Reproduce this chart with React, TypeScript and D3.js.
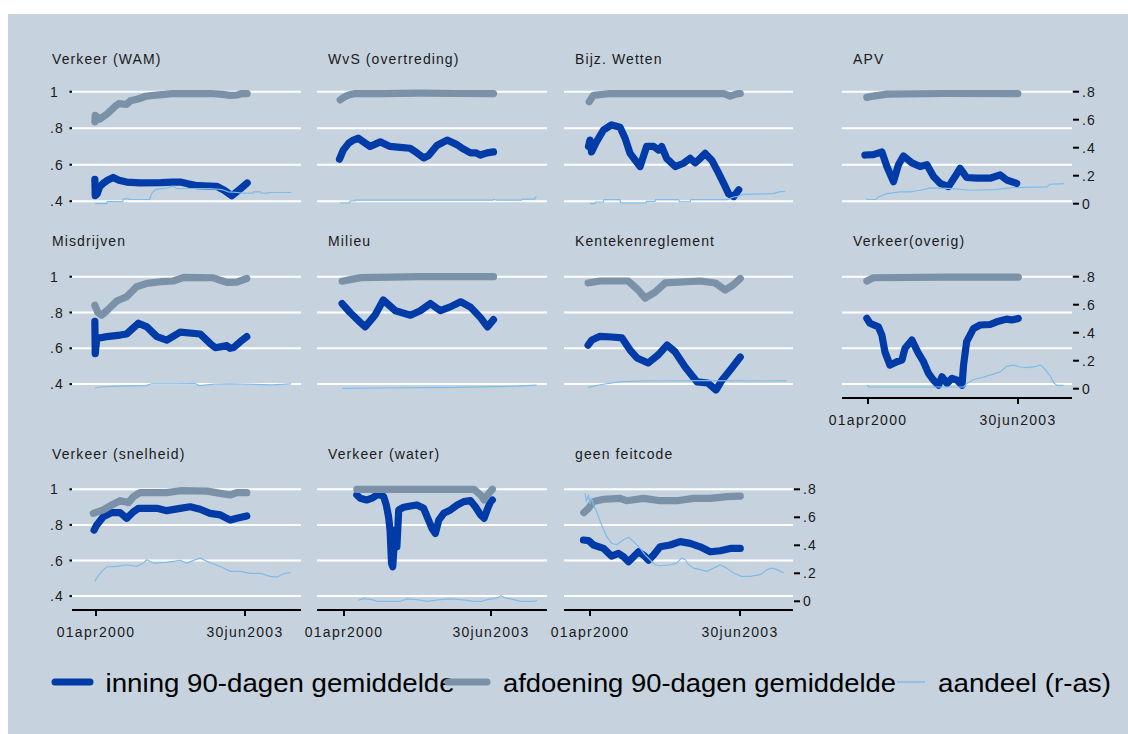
import React from 'react';
import * as d3 from 'd3';

type P = [number, number];

// ---------- tick labels ----------
const leftTicks = [1, 0.8, 0.6, 0.4];
const leftTickLabels = ['1', '.8', '.6', '.4'];
const rightTicks = [0.8, 0.6, 0.4, 0.2, 0];
const rightTickLabels = ['.8', '.6', '.4', '.2', '0'];
const dateTicks = [new Date(2000, 3, 1), new Date(2003, 5, 30)];
const dateTickLabels = ['01apr2000', '30jun2003'];
const legendLabels = ['inning 90-dagen gemiddelde', 'afdoening 90-dagen gemiddelde', 'aandeel (r-as)'];

// ---------- data: [months since 01apr2000, value] ----------
const wamInning: P[] = [[-0.3,0.52],[-0.2,0.43],[0.3,0.44],[1,0.48],[2,0.5],[3,0.515],[4.5,0.53],[6,0.515],[8,0.505],[11.5,0.5],[17,0.502],[20,0.505],[22,0.505],[24,0.495],[26.5,0.485],[31.5,0.482],[33.5,0.46],[35.5,0.43],[37,0.455],[39.5,0.5]];
const wamAfdoening: P[] = [[-0.3,0.835],[-0.2,0.87],[1,0.85],[3,0.88],[5,0.92],[6,0.935],[8,0.93],[9,0.95],[11,0.96],[13,0.975],[15,0.98],[18,0.985],[20,0.99],[30,0.99],[33,0.985],[35,0.98],[37,0.982],[38,0.99],[39.5,0.99]];
const wamAandeel: P[] = [[-0.3,0],[2.8,0],[2.9,0.015],[7,0.015],[7.1,0.035],[8.5,0.035],[8.6,0.03],[14,0.03],[14.5,0.07],[15.5,0.1],[19,0.115],[20,0.125],[21,0.11],[30,0.108],[33,0.1],[34.5,0.085],[37,0.08],[38,0.075],[41,0.075],[41.2,0.085],[43,0.085],[43.2,0.075],[45,0.075],[45.2,0.08],[51,0.08]];

const wvsInning: P[] = [[-1.2,0.63],[-0.8,0.65],[-0.2,0.68],[1.2,0.717],[2.5,0.735],[3.8,0.745],[5.1,0.726],[6.9,0.7],[8,0.71],[9.6,0.725],[12.2,0.7],[14.9,0.695],[17.5,0.69],[19.3,0.665],[21.1,0.637],[22.4,0.65],[24.6,0.705],[27.3,0.735],[29.9,0.71],[31.7,0.685],[33.5,0.665],[35,0.665],[36.1,0.653],[37.9,0.665],[39.6,0.67]];
const wvsAfdoening: P[] = [[-1,0.955],[0,0.97],[1,0.98],[3,0.99],[10,0.99],[20,0.992],[30,0.99],[39.6,0.99]];
const wvsAandeel: P[] = [[-1,0.005],[1.5,0.005],[1.6,0.02],[2.9,0.02],[3,0.026],[39.5,0.026],[39.6,0.032],[40.5,0.026],[47,0.026],[47.2,0.032],[50.5,0.032],[50.7,0.048],[51,0.05]];

const bijzInning: P[] = [[-0.4,0.7],[0,0.735],[0.4,0.67],[1.7,0.726],[3.5,0.79],[5.6,0.818],[7.8,0.805],[9.1,0.745],[10.4,0.662],[11.7,0.626],[13,0.59],[14.7,0.7],[16.5,0.7],[17.8,0.68],[18.6,0.7],[19.9,0.635],[22.1,0.59],[24.3,0.608],[26,0.635],[27.3,0.61],[28.6,0.635],[29.9,0.662],[31.6,0.625],[33.4,0.553],[34.7,0.498],[36,0.44],[37.3,0.425],[38.6,0.462]];
const bijzAfdoening: P[] = [[-0.2,0.945],[0.9,0.98],[5.2,0.99],[20,0.99],[34.7,0.99],[36.4,0.976],[38.1,0.988],[39,0.99]];
const bijzAandeel: P[] = [[0,0],[1.3,0],[1.4,0.012],[3.5,0.012],[3.6,0.029],[7.8,0.029],[8,0.005],[14.5,0.005],[14.7,0.017],[16.9,0.017],[17,0.029],[23,0.029],[23.2,0.014],[26,0.014],[26.2,0.029],[35.5,0.029],[37.3,0.048],[38,0.05],[39.9,0.067],[47.7,0.072],[49,0.084],[50.7,0.088]];

const apvInning: P[] = [[-0.8,0.653],[1.4,0.655],[3.6,0.67],[4.9,0.59],[6.6,0.507],[7.9,0.6],[9.2,0.648],[11.4,0.61],[13.5,0.59],[15.3,0.6],[17,0.535],[18.7,0.498],[20.9,0.48],[22.6,0.535],[23.9,0.58],[25.6,0.53],[28.2,0.526],[31.7,0.526],[34.3,0.544],[36,0.516],[38.6,0.498]];
const apvAfdoening: P[] = [[-0.3,0.969],[1.4,0.976],[4.9,0.987],[20,0.99],[38.9,0.99]];
const apvAandeel: P[] = [[-0.3,0.04],[-0.2,0.03],[2,0.03],[2.7,0.048],[4.9,0.072],[8.3,0.084],[10.9,0.084],[13.5,0.096],[16.1,0.113],[22.2,0.108],[26.5,0.096],[32.6,0.1],[37.8,0.115],[46.4,0.12],[47.3,0.139],[50.8,0.144]];

const misInning: P[] = [[-0.3,0.75],[-0.2,0.57],[0.2,0.655],[2.8,0.665],[6.3,0.674],[8,0.68],[11.1,0.74],[13.3,0.72],[15.9,0.665],[18.5,0.646],[22,0.69],[27.2,0.68],[29.8,0.627],[31.2,0.603],[34.2,0.615],[35,0.6],[36,0.605],[37.7,0.637],[39.4,0.665]];
const misAfdoening: P[] = [[-0.3,0.84],[0.5,0.8],[1.5,0.785],[2.8,0.81],[5.4,0.864],[8,0.888],[10.6,0.944],[13.3,0.963],[16.8,0.972],[20.2,0.976],[22.9,0.996],[30.7,0.994],[32.5,0.98],[34.2,0.968],[36.8,0.97],[39.4,0.99]];
const misAandeel: P[] = [[-0.3,0.005],[1,0.012],[6,0.018],[13,0.022],[14.5,0.035],[20,0.035],[26,0.036],[27,0.022],[31,0.033],[35,0.035],[46,0.028],[51,0.035]];

const milInning: P[] = [[-0.5,0.85],[1.6,0.8],[4.3,0.745],[5.6,0.72],[8.2,0.785],[10.4,0.87],[13.6,0.81],[17.6,0.785],[20.2,0.81],[22.9,0.85],[25.5,0.81],[28,0.83],[30.9,0.86],[33.5,0.83],[36.2,0.77],[38,0.72],[39.6,0.76]];
const milAfdoening: P[] = [[-0.5,0.975],[2,0.985],[4.5,0.995],[20,1],[39.6,1]];
const milAandeel: P[] = [[-0.5,0.003],[10,0.005],[20,0.008],[30,0.01],[40,0.015],[46,0.018],[51,0.025]];

const kenInning: P[] = [[-0.5,0.618],[0.5,0.646],[2.6,0.667],[5.7,0.663],[8.3,0.658],[10.4,0.59],[12.2,0.546],[15.1,0.518],[17.7,0.563],[20,0.618],[22.1,0.58],[24.7,0.496],[27.8,0.412],[30.6,0.406],[32.7,0.367],[34.3,0.423],[36.4,0.479],[39,0.551]];
const kenAfdoening: P[] = [[-0.5,0.965],[2.6,0.976],[9.9,0.976],[12.5,0.926],[14.3,0.88],[16.9,0.914],[19.5,0.965],[28.6,0.976],[32.5,0.965],[35.1,0.926],[37.1,0.953],[39,0.99]];
const kenAandeel: P[] = [[-0.5,0.01],[3,0.03],[8,0.05],[14,0.055],[30,0.058],[45,0.055],[51,0.058]];

const ovrInning: P[] = [[-0.3,0.767],[0.5,0.74],[2.7,0.72],[3.6,0.674],[4.4,0.58],[5.7,0.506],[7.5,0.525],[8.8,0.534],[9.6,0.6],[11.4,0.646],[13.1,0.571],[14.4,0.525],[15.7,0.46],[17,0.422],[18.3,0.394],[19.2,0.441],[20.5,0.404],[21.8,0.432],[23.1,0.422],[24.4,0.394],[24.8,0.506],[25.6,0.637],[27.4,0.711],[29.1,0.73],[31.7,0.733],[33.4,0.748],[36,0.763],[37.3,0.758],[39,0.767]];
const ovrAfdoening: P[] = [[-0.3,0.976],[1.4,0.994],[20,0.998],[39,0.998]];
const ovrAandeel: P[] = [[-0.3,0.024],[0.5,0.012],[24.8,0.012],[25.6,0.035],[27.4,0.066],[30,0.083],[31.7,0.097],[34.3,0.12],[36,0.16],[37.8,0.168],[39.5,0.155],[41.3,0.15],[43.8,0.16],[44.7,0.17],[45.6,0.15],[47.3,0.09],[48.2,0.043],[49,0.024],[50.8,0.024]];

const sneInning: P[] = [[-0.5,0.771],[0.2,0.8],[1.9,0.846],[4.1,0.869],[6.3,0.869],[8,0.837],[9.8,0.874],[11.1,0.893],[15.9,0.893],[18.5,0.88],[22,0.893],[24.6,0.902],[27.2,0.888],[29.8,0.865],[32.5,0.856],[35.1,0.827],[36.8,0.837],[39.4,0.85]];
const sneAfdoening: P[] = [[-0.7,0.865],[1.9,0.884],[4.1,0.912],[6.3,0.936],[7.6,0.93],[8.5,0.925],[9.8,0.959],[11.5,0.981],[18.5,0.981],[22,0.992],[29,0.99],[32.5,0.977],[35.1,0.968],[36.8,0.981],[39.4,0.981]];
const sneAandeel: P[] = [[-0.3,0.142],[0.2,0.166],[1.5,0.214],[2.8,0.245],[5.4,0.249],[8,0.261],[10.6,0.249],[12.4,0.273],[13.3,0.297],[15,0.273],[18.5,0.278],[22,0.292],[23.7,0.273],[25.5,0.292],[27.2,0.309],[29,0.285],[32.5,0.249],[35.1,0.214],[37.7,0.214],[40.3,0.2],[42.9,0.2],[45.5,0.178],[47.3,0.173],[49,0.197],[50.8,0.206]];

const watInning: P[] = [[3.4,0.968],[4.3,0.95],[6,0.94],[7.4,0.95],[8.7,0.968],[9.6,0.968],[10.5,0.959],[11.2,0.912],[11.8,0.846],[12.2,0.771],[12.6,0.584],[12.9,0.565],[13.3,0.696],[13.6,0.771],[14,0.677],[14.5,0.884],[15.8,0.899],[17.6,0.906],[19.3,0.912],[21.1,0.893],[22,0.846],[23.3,0.78],[24.2,0.752],[25.1,0.827],[26.4,0.865],[28.2,0.884],[30,0.912],[31.7,0.931],[33.5,0.936],[34.8,0.902],[36.2,0.856],[37.1,0.837],[37.9,0.884],[38.8,0.931],[39.3,0.94]];
const watAfdoening: P[] = [[3.4,1],[20,1],[34.4,1],[36.2,0.968],[37.1,0.94],[38.4,0.978],[39.3,1]];
const watAandeel: P[] = [[3.8,0.007],[5.1,0.019],[7.4,0.012],[8.7,0],[14.9,0],[16.7,0.017],[19.3,0.012],[22,0],[25.5,0.012],[28.2,0.017],[30.9,0.012],[32.6,0.007],[34.4,0],[36.6,0],[37.9,0.012],[40.6,0.024],[41.5,0.04],[42.8,0.024],[45,0.012],[46.8,0],[50.4,0],[51.2,0.007]];

const gfcInning: P[] = [[-1.7,0.715],[-0.4,0.712],[0.9,0.687],[3.5,0.668],[5.6,0.625],[7.4,0.64],[8.7,0.621],[10,0.593],[11.3,0.621],[12.6,0.649],[13.9,0.63],[15.2,0.602],[16.5,0.631],[18.2,0.677],[20.8,0.687],[23.4,0.706],[26,0.696],[28.6,0.677],[31.2,0.649],[33.8,0.655],[36.4,0.668],[39,0.668]];
const gfcAfdoening: P[] = [[-1.6,0.869],[-0.4,0.893],[0.9,0.931],[3.5,0.944],[7.8,0.949],[9.5,0.936],[13.9,0.949],[18.2,0.936],[22.5,0.936],[26.9,0.949],[31.2,0.949],[35.5,0.959],[39,0.962]];
const gfcAandeel: P[] = [[-1.3,0.771],[-0.9,0.712],[-0.4,0.76],[0,0.7],[0.4,0.736],[0.9,0.688],[1.7,0.641],[3,0.546],[4.3,0.463],[5.6,0.415],[6.9,0.404],[8.7,0.439],[10,0.458],[11.3,0.427],[13,0.38],[14.3,0.332],[15.6,0.297],[16.9,0.261],[18.2,0.254],[20.8,0.261],[22.5,0.273],[23.8,0.309],[24.7,0.297],[25.6,0.261],[26.9,0.237],[28.6,0.226],[30.3,0.214],[32.1,0.237],[33.8,0.261],[35.5,0.237],[37.3,0.202],[39.4,0.178],[41.6,0.178],[44.2,0.19],[45.9,0.226],[47.2,0.237],[48.5,0.226],[50.3,0.202]];

const panelTitles = ['Verkeer (WAM)', 'WvS (overtreding)', 'Bijz. Wetten', 'APV', 'Misdrijven', 'Milieu', 'Kentekenreglement', 'Verkeer(overig)', 'Verkeer (snelheid)', 'Verkeer (water)', 'geen feitcode'];
const panelInning = [wamInning, wvsInning, bijzInning, apvInning, misInning, milInning, kenInning, ovrInning, sneInning, watInning, gfcInning];
const panelAfdoening = [wamAfdoening, wvsAfdoening, bijzAfdoening, apvAfdoening, misAfdoening, milAfdoening, kenAfdoening, ovrAfdoening, sneAfdoening, watAfdoening, gfcAfdoening];
const panelAandeel = [wamAandeel, wvsAandeel, bijzAandeel, apvAandeel, misAandeel, milAandeel, kenAandeel, ovrAandeel, sneAandeel, watAandeel, gfcAandeel];

// ---------- layout ----------
const COLS = [
  { x0: 72, x1: 301, tA: 96, tB: 245 },
  { x0: 317, x1: 547, tA: 344, tB: 491 },
  { x0: 564, x1: 793, tA: 590, tB: 740 },
  { x0: 842, x1: 1072, tA: 868, tB: 1018 },
];
const ROWS = [
  { yTop: 91.7, gap: 36.5, titleY: 63.5 },
  { yTop: 276.7, gap: 35.8, titleY: 246 },
  { yTop: 489.3, gap: 35.6, titleY: 458.5 },
];
const RIGHT_SPAN = 112;

const C_INNING = '#003ba8';
const C_AFD = '#7a91a8';
const C_AAN = '#7fbbe8';
const BG = '#c6d3df';
const FONT = "'Liberation Sans', Arial, Helvetica, sans-serif";
const TXT = '#1a1a1a';

const BASE = new Date(2000, 3, 1).getTime();
const toDate = (m: number) => new Date(BASE + m * 30.4375 * 86400000);

function Panel({ i }: { i: number }) {
  const col = i % 4;
  const row = Math.floor(i / 4);
  const c = COLS[col];
  const r = ROWS[row];
  const x = d3.scaleTime().domain(dateTicks).range([c.tA, c.tB]);
  const yL = d3.scaleLinear().domain([0.4, 1]).range([r.yTop + 3 * r.gap, r.yTop]);
  const yR = d3.scaleLinear().domain([0, 0.8]).range([r.yTop + RIGHT_SPAN, r.yTop]);
  const lineL = d3.line<P>().x(d => x(toDate(d[0]))).y(d => yL(d[1]));
  const lineR = d3.line<P>().x(d => x(toDate(d[0]))).y(d => yR(d[1]));
  const showLeft = col === 0;
  const showRight = (col === 3 && row < 2) || (col === 2 && row === 2);
  const showDate = row === 2 || (col === 3 && row === 1);
  const axisY = yL(0.4) + 14;
  const titleX = col === 0 ? 52 : c.x0 + 11;
  return (
    <g>
      <text x={titleX} y={r.titleY} fontSize={14} letterSpacing={1.1} fill={TXT}>{panelTitles[i]}</text>
      {leftTicks.map((t, k) => (
        <g key={k}>
          <line x1={c.x0} x2={c.x1} y1={yL(t)} y2={yL(t)} stroke="#ffffff" strokeWidth={2} />
          {showLeft && (
            <>
              <line x1={c.x0 - 2.5} x2={c.x0} y1={yL(t)} y2={yL(t)} stroke="#000" strokeWidth={2} />
              <text x={50} y={yL(t) + 5} fontSize={14} letterSpacing={1} fill={TXT}>{leftTickLabels[k]}</text>
            </>
          )}
        </g>
      ))}
      {showRight && rightTicks.map((t, k) => (
        <g key={'r' + k}>
          <line x1={c.x1 + 1} x2={c.x1 + 7} y1={yR(t)} y2={yR(t)} stroke="#000" strokeWidth={2} />
          <text x={c.x1 + 10} y={yR(t) + 5} fontSize={14} letterSpacing={1} fill={TXT}>{rightTickLabels[k]}</text>
        </g>
      ))}
      {showDate && (
        <g>
          <line x1={c.x0} x2={c.x1} y1={axisY} y2={axisY} stroke="#000" strokeWidth={2} />
          {dateTicks.map((d, k) => (
            <g key={'d' + k}>
              <line x1={x(d)} x2={x(d)} y1={axisY} y2={axisY + 6} stroke="#000" strokeWidth={2} />
              <text x={x(d)} y={axisY + 27} fontSize={14} letterSpacing={1.3} textAnchor="middle" fill={TXT}>{dateTickLabels[k]}</text>
            </g>
          ))}
        </g>
      )}
      <path d={lineL(panelInning[i]) || ''} fill="none" stroke={C_INNING} strokeWidth={7.2} strokeLinejoin="round" strokeLinecap="round" />
      <path d={lineL(panelAfdoening[i]) || ''} fill="none" stroke={C_AFD} strokeWidth={7.2} strokeLinejoin="round" strokeLinecap="round" />
      <path d={lineR(panelAandeel[i]) || ''} fill="none" stroke={C_AAN} strokeWidth={1.2} strokeLinejoin="round" />
    </g>
  );
}

export default function App() {
  return (
    <svg width={1128} height={734} style={{ position: 'absolute', left: 0, top: 0, fontFamily: FONT }}>
      <rect x={0} y={0} width={1128} height={734} fill="#ffffff" />
      <rect x={8} y={14} width={1120} height={720} fill={BG} />
      {panelTitles.map((_, i) => <Panel key={i} i={i} />)}
      <g>
        <line x1={55} x2={90} y1={682} y2={682} stroke={C_INNING} strokeWidth={7} strokeLinecap="round" />
        <text x={105.6} y={692} fontSize={26} textLength={349} lengthAdjust="spacingAndGlyphs" fill="#000">{legendLabels[0]}</text>
        <line x1={448} x2={487} y1={682} y2={682} stroke={C_AFD} strokeWidth={7} strokeLinecap="round" />
        <text x={503} y={692} fontSize={26} textLength={393} lengthAdjust="spacingAndGlyphs" fill="#000">{legendLabels[1]}</text>
        <line x1={897} x2={925} y1={682} y2={682} stroke={C_AAN} strokeWidth={1.5} />
        <text x={938} y={692} fontSize={26} textLength={173} lengthAdjust="spacingAndGlyphs" fill="#000">{legendLabels[2]}</text>
      </g>
    </svg>
  );
}
